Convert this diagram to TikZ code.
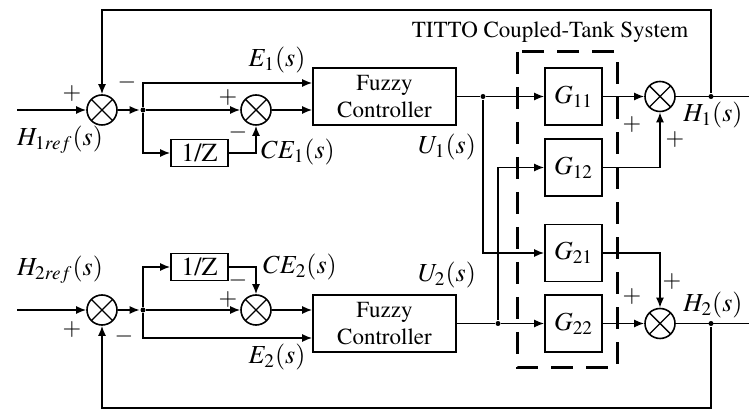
\documentclass[tikz,border=0pt]{standalone}
\usepackage[T1]{fontenc}
\usepackage{mathptmx}
\usetikzlibrary{arrows.meta}

\begin{document}
\begin{tikzpicture}[
    x=0.5pt, y=-0.5pt,
    line width=0.8pt, >={Latex[length=5pt,width=4pt]},
    sum/.style={circle, draw, minimum size=15pt, inner sep=0pt,
      path picture={\draw[line width=0.7pt]
        (path picture bounding box.north west) -- (path picture bounding box.south east)
        (path picture bounding box.north east) -- (path picture bounding box.south west);}},
    delay/.style={draw, minimum width=28.5pt, minimum height=13.5pt, inner sep=0pt,
      font=\fontsize{13}{15}\selectfont},
    fuzzy/.style={draw, minimum width=71.5pt, minimum height=28.5pt, inner sep=0pt,
      align=center, font=\fontsize{11.5}{13.5}\selectfont},
    plant/.style={draw, minimum width=28.5pt, minimum height=28.5pt, inner sep=0pt,
      font=\fontsize{13}{15}\selectfont},
    tank/.style={line width=1.5pt, dash pattern=on 11pt off 6.5pt},
    lab/.style={font=\fontsize{13}{15}\selectfont, inner sep=0pt},
    sign/.style={font=\fontsize{12}{14}\selectfont, inner sep=0pt},
    dot/.style={fill, circle, minimum size=2.5pt, inner sep=0pt}]
  % fixed 749 x 410 px canvas
  \path[use as bounding box] (0,0) rectangle (749,410);

  % ================= loop 1: error and change of error =================
  \coordinate (inA) at (17,110);
  \node[sum] (sA) at (102,110) {};
  \node[dot] (bA) at (143,110) {};
  \node[sum] (sB) at (256,110) {};
  \node[delay] (zA) at (199.5,153) {1/Z};
  \node[fuzzy] (fA) at (384.5,96.5) {Fuzzy\\Controller};
  \draw[->] (inA) -- (sA);
  \draw[->] (sA) -- (bA);
  \draw[->] (bA) -- (sB);
  \draw[->] (bA) |- ([yshift=6.75pt]fA.west);
  \draw[->] (bA) |- (zA);
  \draw[->] (zA) -| (sB);
  \draw[->] (sB) -- (sB -| fA.west);
  \node[sign] (pA1) at (72,94) {$+$};
  \node[sign] (mA1) at (127,83) {$-$};
  \node[sign] (pA2) at (228,98) {$+$};
  \node[sign] (mA2) at (238,133) {$-$};
  \node[lab] (hA) at (60,140) {$H_{1ref}(s)$};
  \node[lab] (eA) at (277,60) {$E_1(s)$};
  \node[lab] (ceA) at (298,152) {$CE_1(s)$};

  % ================= loop 2: error and change of error =================
  \coordinate (inB) at (17,310);
  \node[sum] (sC) at (102,310) {};
  \node[dot] (bB) at (143,310) {};
  \node[sum] (sD) at (256,310) {};
  \node[delay] (zB) at (199.5,267) {1/Z};
  \node[fuzzy] (fB) at (384.5,323.5) {Fuzzy\\Controller};
  \draw[->] (inB) -- (sC);
  \draw[->] (sC) -- (bB);
  \draw[->] (bB) -- (sD);
  \draw[->] (bB) |- ([yshift=-7.25pt]fB.west);
  \draw[->] (bB) |- (zB);
  \draw[->] (zB) -| (sD);
  \draw[->] (sD) -- (sD -| fB.west);
  \node[sign] (pB1) at (72,330) {$+$};
  \node[sign] (mB1) at (124,337) {$-$};
  \node[sign] (pB2) at (228,300) {$+$};
  \node[sign] (mB2) at (238,281) {$-$};
  \node[lab] (hB) at (60,270) {$H_{2ref}(s)$};
  \node[lab] (eB) at (277,357) {$E_2(s)$};
  \node[lab] (ceB) at (300,267) {$CE_2(s)$};

  % ================= TITO coupled-tank plant =================
  \foreach \name/\y in {11/96.5, 12/167.5, 21/253, 22/323.5} {
    \node[plant] (g\name) at (573.5,\y) {$G_{\name}$};
  }
  \draw[tank] (517,52) rectangle (617,368);
  \node[font=\fontsize{11.5}{13.5}\selectfont, inner sep=0pt] (title) at (550,32)
    {TITTO Coupled-Tank System};

  \node[dot] (dA) at (483,96.5) {};
  \node[dot] (dB) at (498,323.5) {};
  \draw (fA) -- (dA);
  \draw (fB) -- (dB);
  \draw[->] (dA) -- (g11);
  \draw[->] (dA) |- (g21);
  \draw[->] (dB) -- (g22);
  \draw[->] (dB) |- (g12);
  \node[lab] (uA) at (447,147) {$U_1(s)$};
  \node[lab] (uB) at (447,275) {$U_2(s)$};

  % ================= outputs and feedback =================
  \node[sum] (oA) at (660,96.5) {};
  \node[sum] (oB) at (660,323.5) {};
  \draw[->] (g11) -- (oA);
  \draw[->] (g12) -| (oA);
  \draw[->] (g21) -| (oB);
  \draw[->] (g22) -- (oB);
  \node[dot] (fbA) at (711,96.5) {};
  \node[dot] (fbB) at (711,323.5) {};
  \coordinate (yA) at (749,96.5);
  \coordinate (yB) at (749,323.5);
  \coordinate (topA) at (102,10);
  \coordinate (botB) at (102,408);
  \draw (oA) -- (yA);
  \draw (oB) -- (yB);
  \draw[->] (fbA) |- (topA) -- (sA);
  \draw[->] (fbB) |- (botB) -- (sC);
  \node[sign] (pC1) at (632,125) {$+$};
  \node[sign] (pC2) at (675,140) {$+$};
  \node[sign] (pD1) at (632,297) {$+$};
  \node[sign] (pD2) at (672,282) {$+$};
  \node[lab] (yLA) at (713,115) {$H_1(s)$};
  \node[lab] (yLB) at (713,305) {$H_2(s)$};
\end{tikzpicture}
\end{document}
